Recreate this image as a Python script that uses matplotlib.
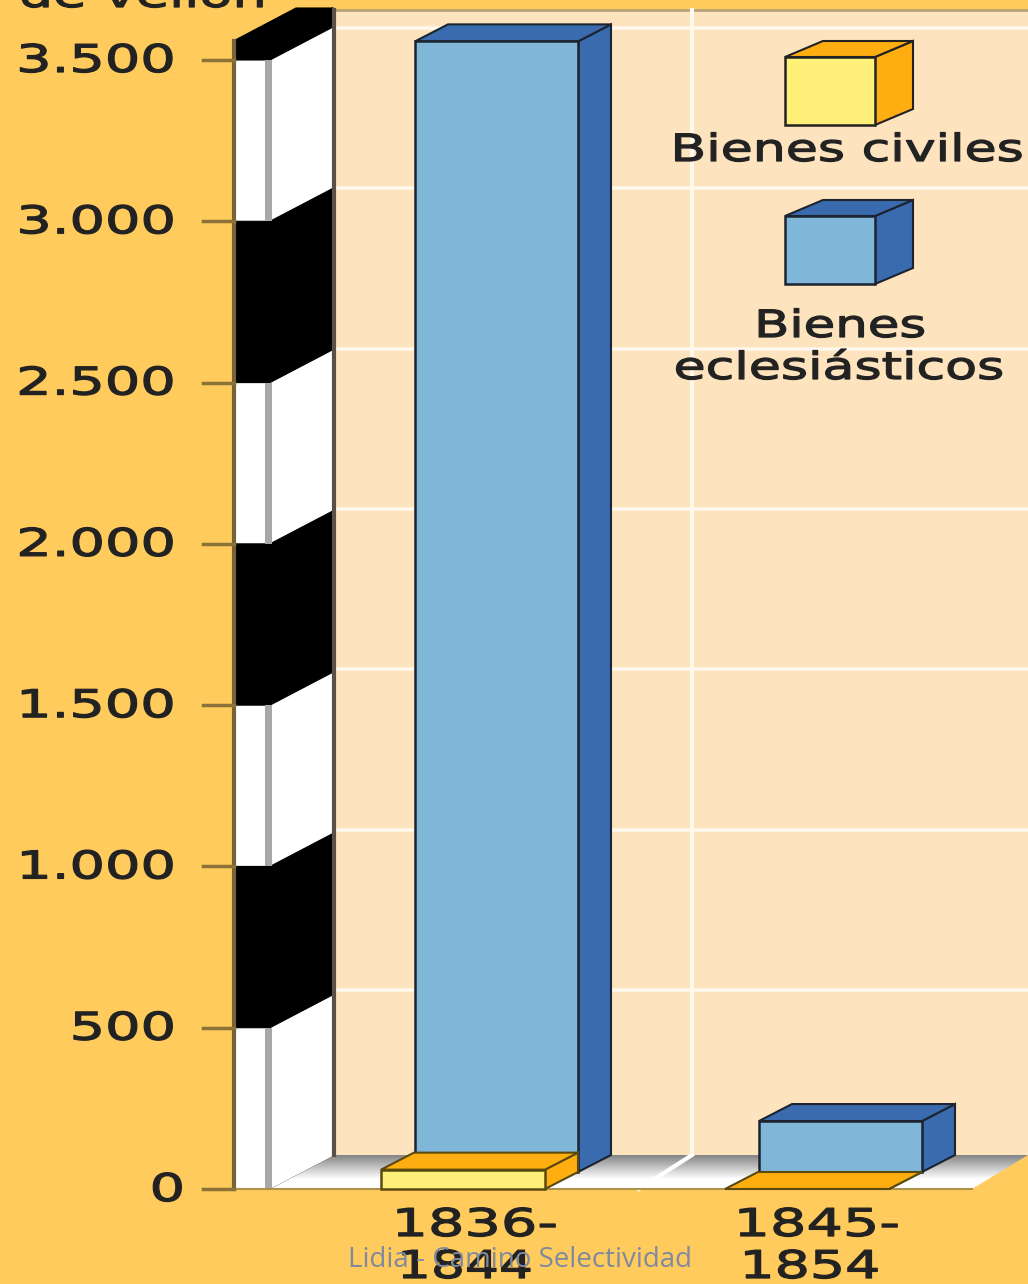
import numpy as np
import matplotlib
matplotlib.use('Agg')
import matplotlib.pyplot as plt
import matplotlib.patheffects as pe
from matplotlib.patches import Polygon
from matplotlib.transforms import Affine2D

periodos = [['1836-', '1844'], ['1845-', '1854']]
bienes_civiles = [60, 0]
bienes_eclesiasticos = [3505, 158]
ticks = [0, 500, 1000, 1500, 2000, 2500, 3000, 3500]
tick_labels = ['0', '500', '1.000', '1.500', '2.000', '2.500', '3.000', '3.500']
bandas_negras = [(500, 1000), (1500, 2000), (2500, 3000), (3500, 3560)]
bandas_blancas = [(0, 500), (1000, 1500), (2000, 2500), (3000, 3500)]

naranja = '#FFCB5C'
pared = '#FDE3BE'
azul_claro = '#80B7D8'
azul = '#3A6BAF'
amarillo = '#FFF07A'
ambar = '#FFAE12'

K = 1129 / 3500  # pixeles por unidad
Y0 = 1189


def yv(py):
    # fila de pixel a valor del eje
    return (Y0 - py) / K


class Stretch(pe.AbstractPathEffect):
    # el texto original es muy ancho, se estira solo en horizontal y se engorda un poco
    def __init__(self, sx, xc):
        super().__init__()
        self.sx = sx
        self.xc = xc

    def draw_path(self, renderer, gc, tpath, affine, rgbFace=None):
        st = Affine2D().translate(-self.xc, 0).scale(self.sx, 1).translate(self.xc, 0)
        gc0 = renderer.new_gc()
        gc0.copy_properties(gc)
        gc0.set_linewidth(0.9)
        gc0.set_foreground(rgbFace)
        renderer.draw_path(gc0, tpath, affine + st, rgbFace)
        gc0.restore()


def texto(ax, x, py, s, size, sx, ha='center', color='#222222'):
    ax.text(x, yv(py), s, fontsize=size, ha=ha, va='center', color=color,
            family='DejaVu Sans', path_effects=[Stretch(sx, x)], zorder=20)


def caja(ax, x0, x1, base, alto, cara, lado, z, dx=33, dy=17, borde='#1c2430'):
    # prisma: base y alto en valores del eje, dx y dy en pixeles
    d = dy / K
    top = base + alto
    ax.add_patch(Polygon([(x1, base), (x1 + dx, base + d), (x1 + dx, top + d), (x1, top)],
                         fc=lado, ec=borde, lw=1.5, zorder=z))
    ax.add_patch(Polygon([(x0, top), (x0 + dx, top + d), (x1 + dx, top + d), (x1, top)],
                         fc=lado, ec=borde, lw=1.5, zorder=z))
    if alto > 0:
        ax.add_patch(Polygon([(x0, base), (x1, base), (x1, top), (x0, top)],
                             fc=cara, ec=borde, lw=1.8, zorder=z))


fig = plt.figure(figsize=(10.28, 12.84), dpi=100, facecolor=naranja)
ax = fig.add_axes([0, 0, 1, 1])
ax.set_xlim(0, 1028)
ax.set_ylim(yv(1284), yv(0))
ax.axis('off')

# pared del fondo con rejilla, algo mas comprimida por la perspectiva
ax.add_patch(Polygon([(333, yv(1155)), (1028, yv(1155)), (1028, yv(10)), (333, yv(10))],
                     fc=pared, ec='none', zorder=1))
ax.plot([333, 1028], [yv(10), yv(10)], color='#B9A27A', lw=2, zorder=2)
for t in ticks[1:]:
    ax.plot([336, 1028], [yv(1150.3 - t * 0.3207)] * 2, color='#FFF8EC', lw=2.6, zorder=2)
ax.plot([692, 692], [yv(10), yv(1155)], color='#FFF8EC', lw=3, zorder=2)

# suelo con degradado
grad = np.clip(np.linspace(0.52, 1.2, 64), 0, 1).reshape(-1, 1)
suelo = Polygon([(268, yv(1189)), (333, yv(1155)), (1028, yv(1155)), (972, yv(1189))],
                fc='none', ec='none', transform=ax.transData)
ax.add_patch(suelo)
im = ax.imshow(grad, cmap='gray', vmin=0, vmax=1, aspect='auto',
               extent=(268, 1028, yv(1189), yv(1155)), zorder=3)
im.set_clip_path(suelo)
ax.set_xlim(0, 1028)
ax.set_ylim(yv(1284), yv(0))
ax.plot([692, 639], [yv(1155), yv(1189)], color='white', lw=3, zorder=4)
ax.plot([268, 333], [yv(1189), yv(1155)], color='#222222', lw=1.5, zorder=4)

# pared lateral a franjas
for a, b in bandas_blancas:
    ax.add_patch(Polygon([(270, a), (333, a + 33 / K), (333, b + 33 / K), (270, b)],
                         fc='white', ec='none', zorder=5))
    ax.add_patch(Polygon([(234, a), (270, a), (270, b), (234, b)],
                         fc='white', ec='none', zorder=5))
    ax.add_patch(Polygon([(265, a), (272, a), (272, b), (265, b)],
                         fc='#A8A8A8', ec='none', zorder=6))
for a, b in bandas_negras:
    ax.add_patch(Polygon([(270, a), (333, a + 33 / K), (333, b + 33 / K), (270, b)],
                         fc='black', ec='black', lw=0.8, zorder=5))
    ax.add_patch(Polygon([(234, a), (270, a), (272, b), (234, b)],
                         fc='black', ec='black', lw=0.8, zorder=5))
# tapa de la pared lateral
ax.add_patch(Polygon([(234, 3560), (270, 3560), (333, yv(8)), (296, yv(8))],
                     fc='black', ec='black', lw=0.8, zorder=5))
ax.plot([234, 234], [0, 3560], color='#7A6238', lw=3, zorder=6)
ax.plot([334, 334], [yv(1155), yv(10)], color='#5A5048', lw=3, zorder=6)
ax.plot([203, 1028 - 56], [0, 0], color='#B0934A', lw=1.5, zorder=6)
for t in ticks:
    ax.plot([203, 234], [t, t], color='#8A7238', lw=2.5, zorder=6)

# barras
centros = [463, 807]
for c, civ, ecl in zip(centros, bienes_civiles, bienes_eclesiasticos):
    caja(ax, c - 48, c + 115, 17 / K, ecl, azul_claro, azul, 7)
    caja(ax, c - 82, c + 82, 0, civ, amarillo, ambar, 8, borde='#5a4a10')

# leyenda
caja(ax, 785, 875, yv(125), (125 - 57) / K, amarillo, ambar, 9, dx=38, dy=16, borde='#222222')
caja(ax, 785, 875, yv(284), (284 - 216) / K, azul_claro, azul, 9, dx=38, dy=16)
texto(ax, 847, 151, 'Bienes civiles', 27, 1.39)
texto(ax, 840, 327, 'Bienes', 27, 1.37)
texto(ax, 839, 369, 'eclesiásticos', 27, 1.39)

# etiquetas de los ejes
for t, lab in zip(ticks, tick_labels):
    texto(ax, 185 if lab == '0' else 176, Y0 - t * K + 2, lab, 27.5, 1.46, ha='right')
texto(ax, 143, -3, 'de vellón', 27.5, 1.42)
for c, par, dx0, dx1, sx1 in zip(centros, periodos, [12, 10], [2, 3], [1.4, 1.45]):
    texto(ax, c + dx0, 1226, par[0], 27.5, 1.5)
    texto(ax, c + dx1, 1268, par[1], 27.5, sx1)

ax.text(520, yv(1260), 'Lidia - Camino Selectividad', fontsize=20, ha='center', va='center',
        color='#7F8AA0', family='Open Sans', zorder=21)

fig.savefig('out.png', dpi=100, facecolor=naranja)
